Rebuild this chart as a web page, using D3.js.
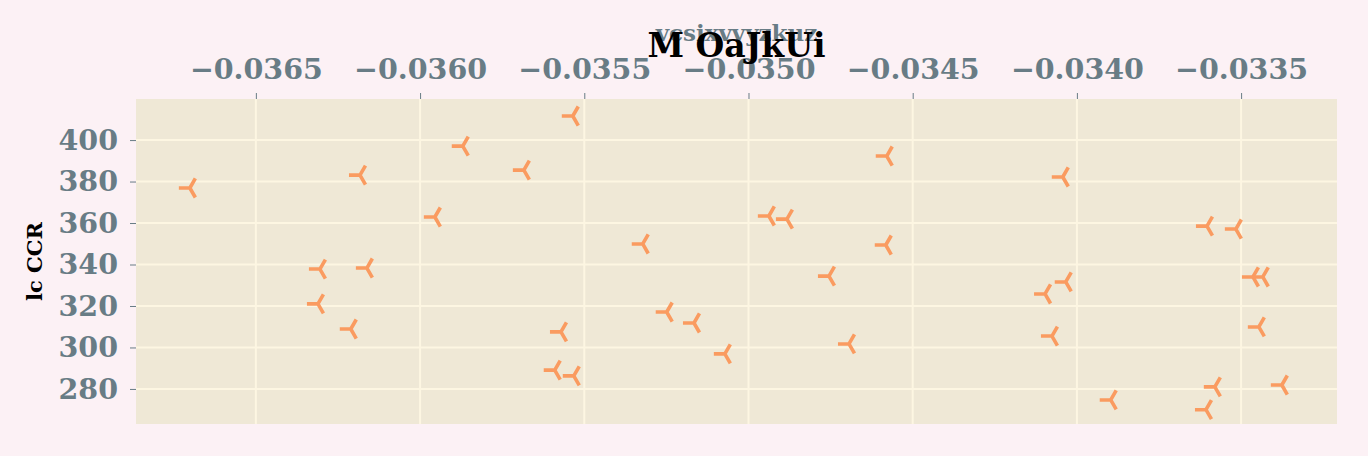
<!DOCTYPE html>
<html><head><meta charset="utf-8">
<script src="https://cdn.jsdelivr.net/npm/d3@7"></script>
<style>html,body{margin:0;padding:0;background:#fcf1f5;}svg{display:block;}</style>
</head><body>
<svg id="c" width="1368" height="456"></svg>
<script>
const title = "M OaJkUi";
const xLabel = "vcsixvvyzkuz";
const yLabel = "lc CCR";
const xTicks = [-0.0365, -0.0360, -0.0355, -0.0350, -0.0345, -0.0340, -0.0335];
const yTicks = [280, 300, 320, 340, 360, 380, 400];
const xValues = [-0.035535,-0.03587,-0.034579,-0.036701,-0.036183,-0.035684,-0.034043,-0.035955,-0.034938,-0.034883,-0.033604,-0.033516,-0.035322,-0.034582,-0.036305,-0.036162,-0.034755,-0.033464,-0.033434,-0.034034,-0.034097,-0.036311,-0.035249,-0.035166,-0.036211,-0.035571,-0.033446,-0.034076,-0.034694,-0.035072,-0.03559,-0.035532,-0.03358,-0.033376,-0.033897,-0.033607];
const yValues = [411.6,397.1,392.3,376.9,383.1,385.5,382.2,362.9,363.4,361.9,358.5,357.1,349.9,349.4,337.8,338.3,334.4,334.0,334.0,331.6,325.8,321.0,317.1,311.8,308.9,307.5,309.9,305.5,301.7,296.9,289.1,286.3,281.0,281.9,274.7,270.0];

const L = 136, R = 1337, T = 99, B = 424;
const svg = d3.select("#c");
const x = d3.scaleLinear().domain([-0.036865, -0.033208]).range([L, R]);
const y = d3.scaleLinear().domain([263.1, 419.8]).range([B, T]);
const fontFam = "'DejaVu Serif', serif";
const tickCol = "#687c85";

svg.append("rect").attr("x", L).attr("y", T).attr("width", R - L).attr("height", B - T).attr("fill", "#efe8d6");

const grid = svg.append("g");
grid.selectAll("line.gx").data(xTicks).join("line")
  .attr("x1", d => x(d)).attr("x2", d => x(d)).attr("y1", T).attr("y2", B)
  .attr("stroke", "#fdf6e2").attr("stroke-width", 2);
grid.selectAll("line.gy").data(yTicks).join("line")
  .attr("y1", d => y(d)).attr("y2", d => y(d)).attr("x1", L).attr("x2", R)
  .attr("stroke", "#fdf6e2").attr("stroke-width", 2);

const fmt = d => d3.format(".4f")(d).replace("-", "\u2212");
const xAxis = svg.append("g").attr("transform", `translate(0,${T})`)
  .call(d3.axisTop(x).tickValues(xTicks).tickFormat(fmt).tickSize(6).tickPadding(14));
const yAxis = svg.append("g").attr("transform", `translate(${L},0)`)
  .call(d3.axisLeft(y).tickValues(yTicks).tickSize(6).tickPadding(12));
[xAxis, yAxis].forEach(a => {
  a.select(".domain").remove();
  a.selectAll(".tick line").attr("stroke", tickCol).attr("stroke-width", 1);
  a.selectAll(".tick text").attr("fill", tickCol).attr("font-family", fontFam)
    .attr("font-weight", "bold").attr("font-size", 28.5);
});

svg.append("text").attr("x", (L + R) / 2).attr("y", 41).attr("text-anchor", "middle")
  .attr("font-family", fontFam).attr("font-weight", "bold").attr("font-size", 23)
  .attr("fill", tickCol).text(xLabel);

svg.append("text").attr("x", (L + R) / 2).attr("y", 57).attr("text-anchor", "middle")
  .attr("font-family", fontFam).attr("font-weight", "bold").attr("font-size", 33)
  .attr("fill", "#000").text(title);

svg.append("text").attr("transform", `translate(42,${(T + B) / 2}) rotate(-90)`)
  .attr("text-anchor", "middle").attr("font-family", fontFam).attr("font-weight", "bold")
  .attr("font-size", 21).attr("fill", "#000").text(yLabel);

const arm = 11;
const triPath = `M0,0L${-arm},0M0,0L${arm * 0.5},${-arm * 0.866}M0,0L${arm * 0.5},${arm * 0.866}`;
svg.append("g").selectAll("path").data(xValues.map((d, i) => [d, yValues[i]])).join("path")
  .attr("transform", d => `translate(${x(d[0])},${y(d[1])})`)
  .attr("d", triPath).attr("fill", "none").attr("stroke", "#fa9b60").attr("stroke-width", 3.6);
</script>
</body></html>
